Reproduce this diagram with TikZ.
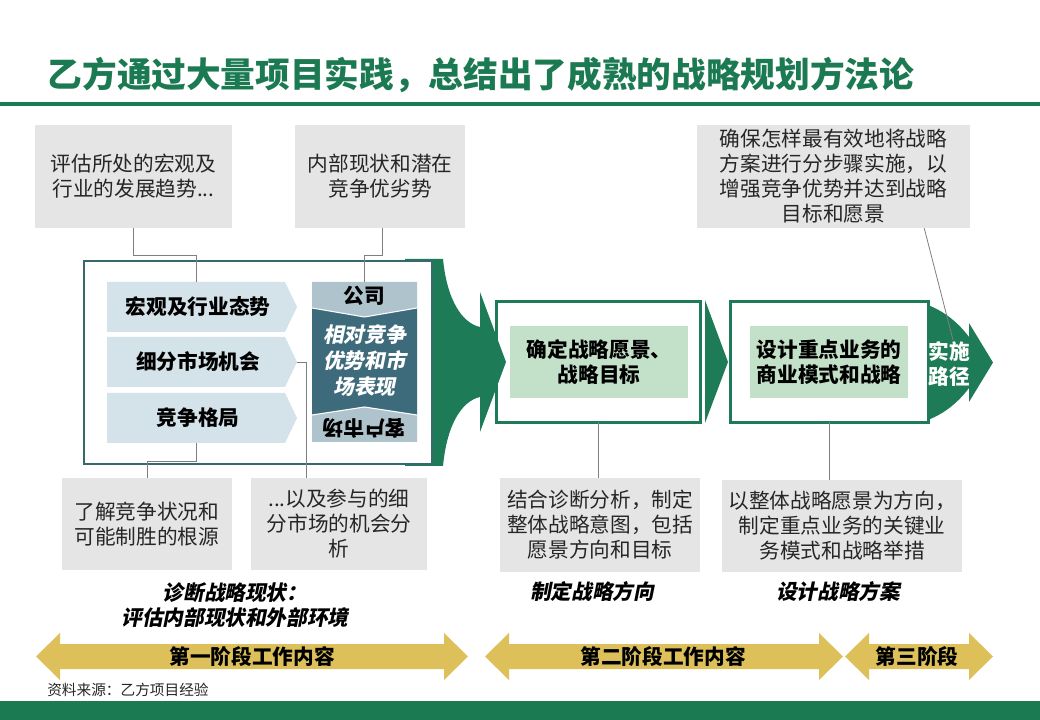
\documentclass[tikz,border=0pt]{standalone}
\usepackage{fontspec}
\setmainfont{Noto Sans CJK SC}
\newfontfamily\cjkslant{Noto Sans CJK SC}[FakeSlant=0.2]
\usetikzlibrary{fit,calc}
\definecolor{tgreen}{HTML}{1B7A52}
\definecolor{agreen}{HTML}{1E7B57}
\definecolor{boxgray}{HTML}{E5E5E5}
\definecolor{pentblue}{HTML}{D4E2E9}
\definecolor{collight}{HTML}{AFC3CD}
\definecolor{coldark}{HTML}{3E6B7C}
\definecolor{framedark}{HTML}{36696A}
\definecolor{innergreen}{HTML}{C3E0C9}
\definecolor{gold}{HTML}{DEC05A}
\definecolor{linegray}{HTML}{7F7F7F}
\definecolor{txt}{HTML}{262626}
\newcommand\fsn{\fontsize{15.5}{18.75}\selectfont}
\begin{document}
\begin{tikzpicture}[x=0.75pt,y=-0.75pt,
  gbox/.style={fill=boxgray,inner sep=0pt},
  btext/.style={inner sep=0pt,align=center,font=\fsn,text=txt},
  pentshape/.style={fill=pentblue},
  ptext/.style={inner sep=0pt,align=center,font=\fsn\bfseries,text=black},
  frameg/.style={draw=agreen,line width=2pt},
  innerbox/.style={fill=innergreen,inner sep=0pt},
  conn/.style={draw=linegray,line width=0.6pt},
  ital/.style={inner sep=0pt,align=center,font=\fsn\cjkslant\bfseries,text=black},
  goldarrow/.style={fill=gold},
  goldtext/.style={inner sep=0pt,font=\fsn\bfseries,text=black}]
\useasboundingbox (0,0) rectangle (1040,720);
\fill[white] (0,0) rectangle (1040,720);

% title
\node[inner sep=0pt,font=\fontsize{26}{30}\selectfont\bfseries,text=tgreen] (title) at (481,75) {乙方通过大量项目实践，总结出了成熟的战略规划方法论};
\draw[tgreen,line width=2.6pt] (0,104) -- (1040,104);

% top gray boxes
\node[gbox,fit={(35,125)(232,228)}] (t1) {};
\node[btext] (t1x) at (t1.center) {评估所处的宏观及\\行业的发展趋势...};
\node[gbox,fit={(295,125)(465,228)}] (t2) {};
\node[btext] (t2x) at (t2.center) {内部现状和潜在\\竞争优劣势};
\node[gbox,fit={(697,125)(970,228)}] (t3) {};
\node[btext] (t3x) at (t3.center) {确保怎样最有效地将战略\\方案进行分步骤实施，以\\增强竞争优势并达到战略\\目标和愿景};

% middle box (below the big arrow)
\node[fill=white,inner sep=0pt,fit={(497,302)(700,422)}] (m1) {};
\node[innerbox,fit={(510,326)(688,398)}] (m1in) {};
\node[ptext] (m1x) at (m1in.center) {确定战略愿景、\\战略目标};
\draw[frameg] (m1.north west) rectangle (m1.south east);

% big left arrow
\fill[agreen] (405,259) -- (443,259) .. controls (447,300) and (462,323) .. (480,327) -- (480,292) -- (506,362) -- (480,432) -- (480,397) .. controls (462,401) and (447,424) .. (443,466) -- (405,466) -- cycle;

% left frame
\node[draw=framedark,fill=white,line width=2pt,inner sep=0pt,fit={(84,261)(432,464)}] (lf) {};

% pentagons
\fill[pentshape] (107,282) -- (285,282) -- (297,307) -- (285,332) -- (107,332) -- cycle;
\node[inner sep=0pt,fit={(107,282)(297,332)}] (p1) {};
\node[ptext] (p1x) at ([xshift=-3pt]p1.center) {宏观及行业态势};
\fill[pentshape] (107,337) -- (285,337) -- (297,362) -- (285,387) -- (107,387) -- cycle;
\node[inner sep=0pt,fit={(107,337)(297,387)}] (p2) {};
\node[ptext] (p2x) at ([xshift=-3pt]p2.center) {细分市场机会};
\fill[pentshape] (107,393) -- (285,393) -- (297,418) -- (285,443) -- (107,443) -- cycle;
\node[inner sep=0pt,fit={(107,393)(297,443)}] (p3) {};
\node[ptext] (p3x) at ([xshift=-3pt]p3.center) {竞争格局};

% company column
\fill[collight] (312,282) -- (417,282) -- (417,308) -- (364.5,317) -- (312,308) -- cycle;
\fill[coldark] (312,308) -- (364.5,317) -- (417,308) -- (417,415) -- (364.5,407) -- (312,415) -- cycle;
\fill[collight] (312,415) -- (364.5,407) -- (417,415) -- (417,442) -- (312,442) -- cycle;
\draw[white,line width=0.8pt] (312,308) -- (364.5,317) -- (417,308);
\draw[white,line width=0.8pt] (312,415) -- (364.5,407) -- (417,415);
\node[inner sep=0pt,fit={(312,282)(417,442)}] (co) {};
\node[ptext] (cotop) at (364.5,296) {公司};
\node[inner sep=0pt,align=center,font=\fontsize{15.5}{19.5}\selectfont\cjkslant\bfseries,text=white] (comid) at (364.5,361) {相对竞争\\优势和市\\场表现};
\node[ptext,rotate=180] (cobot) at (364.5,428) {客户市场};

% chevron
\fill[agreen] (705,300) -- (728,362) -- (705,423) -- cycle;

% right arrow
\fill[agreen] (922,303) .. controls (945,310) and (960,325) .. (969,337) -- (969,323) -- (993,362.5) -- (969,402) -- (969,388) .. controls (960,400) and (945,415) .. (922,422) -- cycle;

% third box
\node[fill=white,inner sep=0pt,fit={(731,302)(928,422)}] (m2) {};
\node[innerbox,fit={(750,326)(908,398)}] (m2in) {};
\node[ptext] (m2x) at (m2in.center) {设计重点业务的\\商业模式和战略};
\draw[frameg] (m2.north west) rectangle (m2.south east);

\node[inner sep=0pt,align=center,font=\fontsize{15.5}{18.75}\selectfont\bfseries,text=white] (ip) at (949,364) {实施\\路径};
\coordinate (ipc) at (953,340);

% bottom gray boxes
\node[gbox,fit={(62,478)(232,570)}] (b1) {};
\node[btext] (b1x) at (b1.center) {了解竞争状况和\\可能制胜的根源};
\node[gbox,fit={(251,478)(427,570)}] (b2) {};
\node[btext] (b2x) at (b2.center) {...以及参与的细\\分市场的机会分\\析};
\node[gbox,fit={(500,478)(700,572)}] (r1) {};
\node[btext] (r1x) at (r1.center) {结合诊断分析，制定\\整体战略意图，包括\\愿景方向和目标};
\node[gbox,fit={(722,480)(962,572)}] (r2) {};
\node[btext] (r2x) at (r2.center) {以整体战略愿景为方向，\\制定重点业务的关键业\\务模式和战略举措};

% connectors
\draw[conn] (t1.south) -- ++(0,27) -| ([xshift=-4.5pt]p1.north);
\draw[conn] ([xshift=1.5pt]t2.south) -- ++(0,27) -| (co.north);
\draw[conn] ([xshift=-4.5pt]p3.south) -- ++(0,18) -| (b1.north);
\draw[conn] (p2.east) -| ([xshift=-24.75pt]b2.north);
\draw[conn] (m1.south) -- (m1.south |- r1.north);
\draw[conn] (m2.south) -- (m2.south |- r2.north);
\draw[conn] ([xshift=-34.5pt]t3.south east) -- (ipc);

% italic labels
\node[ital] (l1) at (235,605) {诊断战略现状：\\评估内部现状和外部环境};
\node[ital] (l2) at (592,592) {制定战略方向};
\node[ital] (l3) at (838,592) {设计战略方案};

% gold arrows
\fill[goldarrow] (36,656.5) -- (60,633) -- (60,644) -- (444,644) -- (444,633) -- (468,656.5) -- (444,680) -- (444,669) -- (60,669) -- (60,680) -- cycle;
\node[goldtext] (g1) at (252,657) {第一阶段工作内容};
\fill[goldarrow] (485,656.5) -- (509,633) -- (509,644) -- (819,644) -- (819,633) -- (843,656.5) -- (819,680) -- (819,669) -- (509,669) -- (509,680) -- cycle;
\node[goldtext] (g2) at (663,657) {第二阶段工作内容};
\fill[goldarrow] (845,656.5) -- (869,633) -- (869,644) -- (969,644) -- (969,633) -- (993,656.5) -- (969,680) -- (969,669) -- (869,669) -- (869,680) -- cycle;
\node[goldtext] (g3) at (917,657) {第三阶段};

% source
\node[anchor=west,inner sep=0pt,font=\fontsize{11}{13}\selectfont,text=txt] (src) at (47,690) {资料来源：乙方项目经验};

% bottom band
\fill[tgreen] (0,701) rectangle (1040,720);
\end{tikzpicture}
\end{document}
